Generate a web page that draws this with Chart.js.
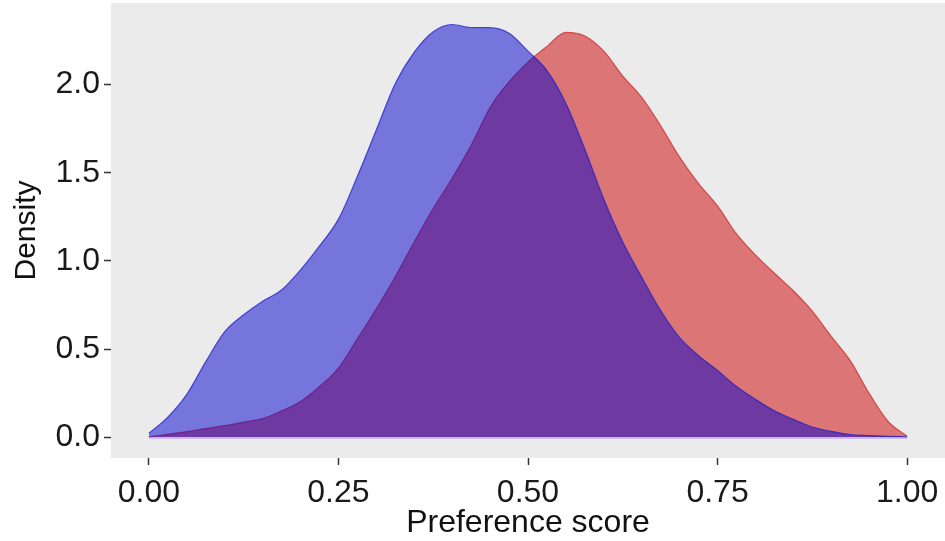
<!DOCTYPE html>
<html>
<head>
<meta charset="utf-8">
<script src="https://cdn.jsdelivr.net/npm/chart.js@4/dist/chart.umd.min.js"></script>
<style>
  html, body { margin: 0; padding: 0; background: #ffffff; }
  canvas { display: block; }
</style>
</head>
<body>
<canvas id="c" width="945" height="541"></canvas>
<script>
// Preference score grid (x)
const scoreGrid = [0, 0.025, 0.05, 0.075, 0.1, 0.125, 0.15, 0.175, 0.2, 0.225,
  0.25, 0.275, 0.3, 0.325, 0.35, 0.375, 0.4, 0.425, 0.45, 0.475,
  0.5, 0.525, 0.55, 0.575, 0.6, 0.625, 0.65, 0.675, 0.7, 0.725,
  0.75, 0.775, 0.8, 0.825, 0.85, 0.875, 0.9, 0.925, 0.95, 0.975, 1];

// Density values, blue group
const blueDensity = [0.023, 0.115, 0.244, 0.429, 0.599, 0.695, 0.772, 0.835, 0.949, 1.085,
  1.237, 1.480, 1.743, 2.006, 2.183, 2.299, 2.340, 2.323, 2.322, 2.290,
  2.189, 2.079, 1.893, 1.633, 1.350, 1.107, 0.907, 0.718, 0.565, 0.463,
  0.379, 0.288, 0.215, 0.150, 0.102, 0.059, 0.034, 0.015, 0.010, 0.006, 0.003];

// Density values, red group
const redDensity = [0.003, 0.017, 0.032, 0.050, 0.066, 0.086, 0.106, 0.150, 0.203, 0.288,
  0.393, 0.559, 0.729, 0.910, 1.109, 1.297, 1.469, 1.655, 1.870, 2.015,
  2.127, 2.216, 2.295, 2.275, 2.189, 2.048, 1.927, 1.766, 1.588, 1.438,
  1.312, 1.153, 1.034, 0.930, 0.831, 0.715, 0.572, 0.435, 0.249, 0.090, 0.006];

const xTickValues = [0, 0.25, 0.5, 0.75, 1];
const xTickLabels = ['0.00', '0.25', '0.50', '0.75', '1.00'];
const yTickValues = [0, 0.5, 1, 1.5, 2];
const yTickLabels = ['0.0', '0.5', '1.0', '1.5', '2.0'];

const panelBg = {
  id: 'panelBg',
  beforeDraw(chart) {
    const a = chart.chartArea, c = chart.ctx;
    c.save();
    c.fillStyle = '#EBEBEB';
    c.fillRect(a.left, a.top, a.right - a.left, a.bottom - a.top);
    c.restore();
  }
};
const baseLine = {
  id: 'baseLine',
  afterDatasetsDraw(chart) {
    const xs = chart.scales.x, ys = chart.scales.y, c = chart.ctx;
    const y0 = ys.getPixelForValue(0) + 1;
    c.save();
    c.strokeStyle = 'rgba(205,185,240,0.95)';
    c.lineWidth = 1.5;
    c.beginPath();
    c.moveTo(xs.getPixelForValue(scoreGrid[0]), y0);
    c.lineTo(xs.getPixelForValue(scoreGrid[scoreGrid.length - 1]), y0);
    c.stroke();
    c.restore();
  }
};

const font = 'Liberation Sans';

new Chart(document.getElementById('c'), {
  type: 'line',
  data: {
    datasets: [
      {
        label: 'blue',
        data: scoreGrid.map((x, i) => ({ x: x, y: blueDensity[i] })),
        fill: 'origin',
        backgroundColor: 'rgba(0,0,205,0.5)',
        borderColor: 'rgba(30,30,205,0.75)',
        borderWidth: 1.2,
        pointRadius: 0,
        tension: 0.4,
        cubicInterpolationMode: 'monotone'
      },
      {
        label: 'red',
        data: scoreGrid.map((x, i) => ({ x: x, y: redDensity[i] })),
        fill: 'origin',
        backgroundColor: 'rgba(205,0,0,0.5)',
        borderColor: 'rgba(205,30,30,0.7)',
        borderWidth: 1.2,
        pointRadius: 0,
        tension: 0.4,
        cubicInterpolationMode: 'monotone'
      }
    ]
  },
  options: {
    responsive: false,
    animation: false,
    layout: { padding: { top: 3, right: 0, left: 0, bottom: 0 } },
    plugins: { legend: { display: false }, tooltip: { enabled: false } },
    scales: {
      x: {
        type: 'linear',
        min: -0.05,
        max: 1.05,
        afterBuildTicks: s => { s.ticks = xTickValues.map(v => ({ value: v })); },
        afterFit: s => { s.height = 83; s.paddingLeft = 0; s.paddingRight = 0; },
        ticks: {
          autoSkip: false,
          maxRotation: 0,
          padding: 9,
          color: '#1a1a1a',
          font: { family: font, size: 32 },
          callback: v => xTickLabels[xTickValues.indexOf(v)]
        },
        grid: { drawOnChartArea: false, tickLength: 7, tickColor: '#333333', tickWidth: 1.5 },
        border: { display: false },
        title: {
          display: true,
          text: 'Preference score',
          color: '#111111',
          font: { family: font, size: 32, lineHeight: 1.1 },
          padding: { top: 0, bottom: 0 }
        }
      },
      y: {
        type: 'linear',
        min: -0.117,
        max: 2.462,
        afterBuildTicks: s => { s.ticks = yTickValues.map(v => ({ value: v })); },
        afterFit: s => { s.width = 111; s.paddingTop = 0; s.paddingBottom = 0; },
        ticks: {
          autoSkip: false,
          padding: 4,
          color: '#1a1a1a',
          font: { family: font, size: 32 },
          callback: v => yTickLabels[yTickValues.indexOf(v)]
        },
        grid: { drawOnChartArea: false, tickLength: 7, tickColor: '#333333', tickWidth: 1.5 },
        border: { display: false },
        title: {
          display: true,
          text: 'Density',
          color: '#111111',
          font: { family: font, size: 30 },
          padding: { top: 9, bottom: 0 }
        }
      }
    }
  },
  plugins: [panelBg, baseLine]
});
</script>
</body>
</html>
